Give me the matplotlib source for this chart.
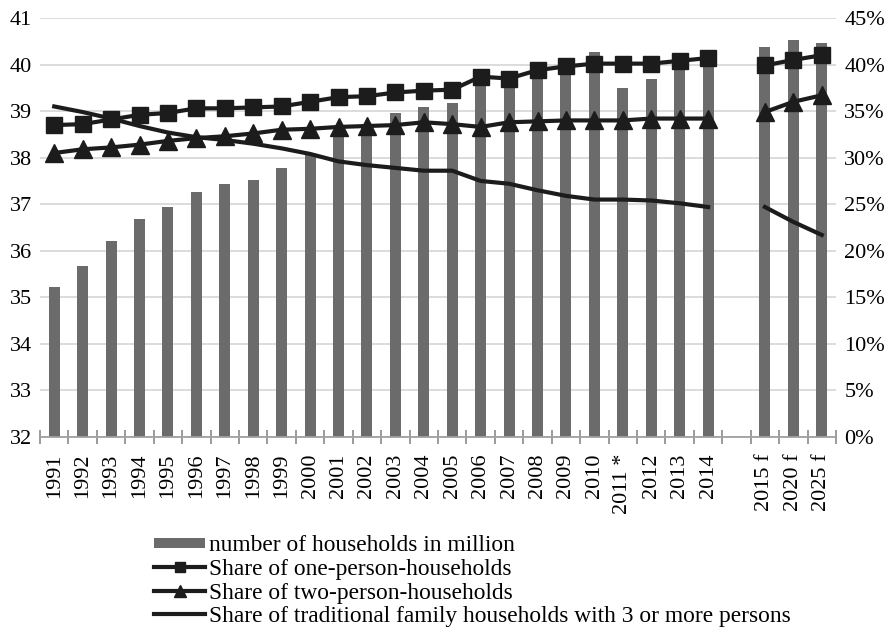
import numpy as np
import matplotlib
matplotlib.use("Agg")
import matplotlib.pyplot as plt
from matplotlib.ticker import FuncFormatter, MultipleLocator
from matplotlib.legend_handler import HandlerPatch
from matplotlib.patches import Rectangle

plt.rcParams['font.family'] = ['Liberation Serif', 'DejaVu Serif']

# categories (an empty slot separates the observed years from the forecasts)
years = [str(y) for y in range(1991, 2011)] + ["2011 *", "2012", "2013", "2014",
                                                 "", "2015 f", "2020 f", "2025 f"]

nan = np.nan
# number of households in million (left axis)
households = [35.23, 35.67, 36.20, 36.68, 36.93, 37.26, 37.44, 37.51, 37.77, 38.07,
              38.44, 38.70, 38.96, 39.09, 39.17, 39.80, 39.75, 39.90, 40.15, 40.28,
              39.49, 39.68, 40.05, 40.20, nan, 40.37, 40.53, 40.47]

# shares in percent (right axis)
one_person = [33.5, 33.6, 34.1, 34.6, 34.8, 35.3, 35.3, 35.4, 35.5, 36.0,
              36.5, 36.6, 37.0, 37.2, 37.3, 38.7, 38.5, 39.4, 39.8, 40.1,
              40.1, 40.1, 40.4, 40.7, nan, 39.9, 40.5, 41.0]
two_person = [30.5, 30.9, 31.1, 31.4, 31.8, 32.1, 32.3, 32.6, 33.0, 33.1,
              33.3, 33.4, 33.5, 33.8, 33.6, 33.3, 33.8, 33.9, 34.0, 34.0,
              34.0, 34.2, 34.2, 34.2, nan, 34.9, 36.0, 36.7]
three_plus = [35.5, 34.9, 34.2, 33.4, 32.7, 32.2, 31.9, 31.5, 31.0, 30.4,
              29.6, 29.2, 28.9, 28.6, 28.6, 27.5, 27.2, 26.5, 25.9, 25.5,
              25.5, 25.4, 25.1, 24.7, nan, 24.7, 23.1, 21.7]

BAR_COLOR = '#6b6b6b'
LINE_COLOR = '#1c1c1c'
FS = 16


class FlatBarHandler(HandlerPatch):
    # thin, wide swatch for the bar series in the legend
    def create_artists(self, legend, orig_handle, xdescent, ydescent,
                       width, height, fontsize, trans):
        h = height * 0.6
        r = Rectangle((-xdescent, -ydescent + (height - h) / 2), width, h,
                      facecolor=BAR_COLOR, edgecolor='none', transform=trans)
        return [r]


fig = plt.figure(figsize=(8.94, 6.41), dpi=100, facecolor='white')
ax = fig.add_axes([40 / 894, 1 - 437 / 641, 796 / 894, 419 / 641])
x = np.arange(len(years))

hh = np.array(households)
mask = ~np.isnan(hh)
bars = ax.bar(x[mask], hh[mask] - 32, bottom=32, width=0.39, color=BAR_COLOR,
              label='number of households in million', zorder=2)

ax.set_xlim(-0.5, len(years) - 0.5)
ax.set_ylim(32, 41)
ax.yaxis.set_major_locator(MultipleLocator(1))
ax.grid(axis='y', color='#d9d9d9', linewidth=1.3, zorder=0)
ax.set_axisbelow(True)
for side in ['left', 'right', 'top']:
    ax.spines[side].set_visible(False)
ax.spines['bottom'].set_color('#a0a0a0')
ax.spines['bottom'].set_linewidth(1.3)

ax.set_xticks(x)
ax.set_xticklabels(years, rotation=90, fontsize=FS)
ax.tick_params(axis='x', length=0, pad=12)
# category boundary ticks
ax.set_xticks(np.arange(-0.5, len(years)), minor=True)
ax.tick_params(axis='x', which='minor', direction='inout', length=10,
               color='#8a8a8a', width=1.2)
ax.tick_params(axis='y', length=0, labelsize=FS, pad=6)

ax2 = ax.twinx()
ax2.set_ylim(0, 45)
ax2.yaxis.set_major_locator(MultipleLocator(5))
ax2.yaxis.set_major_formatter(FuncFormatter(lambda v, p: f"{v:.0f}%"))
ax2.tick_params(axis='y', length=0, labelsize=FS, pad=6)
for side in ['left', 'right', 'top', 'bottom']:
    ax2.spines[side].set_visible(False)

l1, = ax2.plot(x, one_person, color=LINE_COLOR, linewidth=3, marker='s',
               markersize=11, label='Share of one-person-households')
l2, = ax2.plot(x, two_person, color=LINE_COLOR, linewidth=3, marker='^',
               markersize=13, label='Share of two-person-households')
l3, = ax2.plot(x, three_plus, color=LINE_COLOR, linewidth=3,
               label='Share of traditional family households with 3 or more persons')

handles = [bars, l1, l2, l3]
leg = fig.legend(handles, [h.get_label() for h in handles],
                 loc='upper left', bbox_to_anchor=(154 / 894, 1 - 535 / 641),
                 frameon=False, fontsize=16.8, handlelength=2.2, handletextpad=0.15,
                 labelspacing=0.1, borderpad=0, borderaxespad=0, markerscale=0.7,
                 handler_map={type(bars): FlatBarHandler()})

fig.savefig('out.png', dpi=100, facecolor='white')
